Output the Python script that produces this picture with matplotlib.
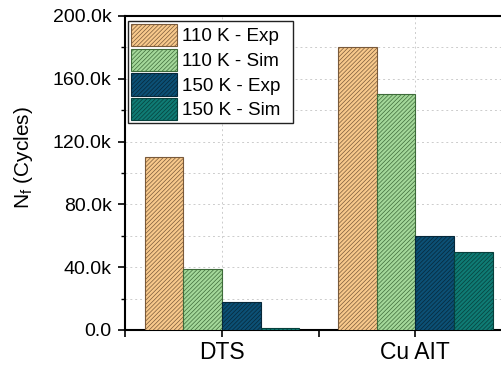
import matplotlib
matplotlib.use("Agg")
import matplotlib.pyplot as plt
from matplotlib.ticker import MultipleLocator, FuncFormatter
import numpy as np

plt.rcParams['font.family'] = ['Liberation Sans', 'DejaVu Sans']
plt.rcParams['hatch.linewidth'] = 0.5

categories = ["DTS", "Cu AIT"]
series_names = ["110 K - Exp", "110 K - Sim", "150 K - Exp", "150 K - Sim"]
exp_110 = [110000, 180000]
sim_110 = [39000, 150000]
exp_150 = [18000, 60000]
sim_150 = [1000, 50000]
values = [exp_110, sim_110, exp_150, sim_150]
colors = ["#F8C98C", "#A4D89A", "#0C5075", "#0F7B74"]
edges = ["#7A5A3A", "#3E6B3A", "#06283A", "#06403C"]

fig = plt.figure(figsize=(5.02, 3.65), dpi=100)
ax_w = (512 - 125.5)
ax_h = (330 - 16)
ax = fig.add_axes([125.5/502, 1-330/365, ax_w/502, ax_h/365])

x = np.arange(len(categories))
w = 0.2
for i, (vals, name) in enumerate(zip(values, series_names)):
    ax.bar(x + (i - 1.5) * w, vals, width=w, color=colors[i], edgecolor=edges[i],
           linewidth=0.8, hatch='////////', label=name, zorder=3)

ax.set_xlim(-0.5, 1.5)
ax.set_ylim(0, 200000)
ax.set_xticks(x)
ax.set_xticklabels(categories, fontsize=16.5)
ax.xaxis.set_minor_locator(MultipleLocator(0.5))
ax.yaxis.set_major_locator(MultipleLocator(40000))
ax.yaxis.set_minor_locator(MultipleLocator(20000))
ax.yaxis.set_major_formatter(FuncFormatter(lambda v, p: "0.0" if v == 0 else f"{v/1000:.1f}k"))
ax.tick_params(axis='y', labelsize=14, direction='out', length=5, width=1.2, pad=5)
ax.tick_params(axis='y', which='minor', direction='out', length=3, width=1)
ax.tick_params(axis='x', which='both', direction='out', length=5, width=1.2, pad=3)

ax.set_ylabel(r"N$_\mathregular{f}$ (Cycles)", fontsize=15)
ax.yaxis.set_label_coords(-0.235, 0.55)

ax.grid(True, which='both', axis='y', linestyle=(0, (2, 3)), color='#cccccc', linewidth=0.7, zorder=0)
ax.grid(True, which='major', axis='x', linestyle=(0, (2, 3)), color='#cccccc', linewidth=0.7, zorder=0)

for s in ['left', 'bottom', 'top']:
    ax.spines[s].set_linewidth(1.5)
ax.spines['right'].set_visible(False)

lx0 = (128 - 125.5) / ax_w
lw = (293 - 128) / ax_w
ly1 = 1 - (21 - 16) / ax_h
lh = (124 - 21) / ax_h
leg = ax.legend(loc='upper left', bbox_to_anchor=(lx0, ly1 - lh, lw, lh), mode='expand',
                fontsize=13.6, handlelength=2.43, handleheight=1.45, labelspacing=0.12,
                handletextpad=0.3, borderpad=0.15, borderaxespad=0.0,
                fancybox=False, framealpha=1)
leg.get_frame().set_edgecolor('#222222')
leg.get_frame().set_linewidth(1.0)

fig.savefig("out.png", dpi=100)
